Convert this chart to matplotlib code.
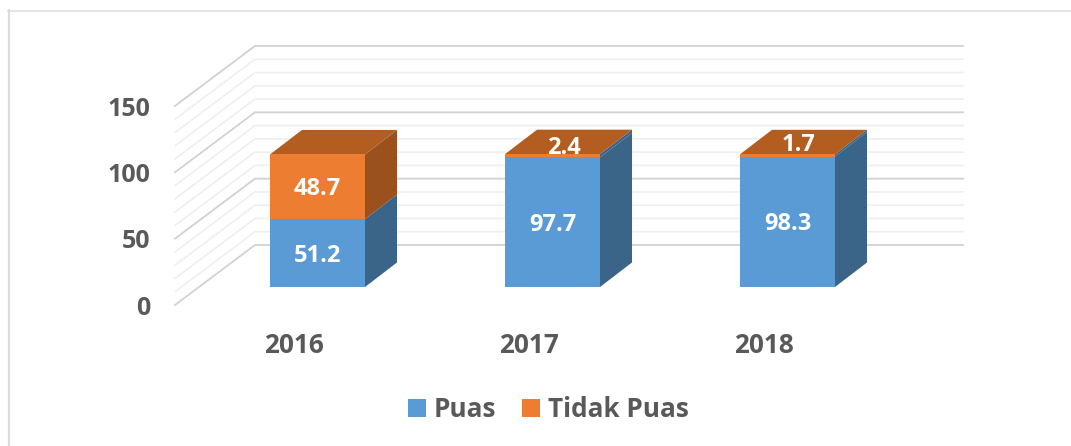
import matplotlib
matplotlib.use("Agg")
import matplotlib.pyplot as plt
from matplotlib.patches import Polygon
from matplotlib.lines import Line2D
from matplotlib.transforms import ScaledTranslation

years = ["2016", "2017", "2018"]
puas = [51.2, 97.7, 98.3]
tidak_puas = [48.7, 2.4, 1.7]
yticks = [0, 50, 100, 150]
minor_ticks = list(range(0, 151, 10))

W, H = 1071, 446
PXV = 1.327            # pixels per value unit
PXC = 235.0            # pixels per category step
X0 = 317.5             # pixel of first category centre
Y0 = 287.0             # pixel of value 0 on the bar front plane
L, R, T = 155.0, 965.0, 47.0

plt.rcParams['font.family'] = ['Open Sans', 'DejaVu Sans']
fig = plt.figure(figsize=(W / 100, H / 100), dpi=100, facecolor='white')
ax = fig.add_axes([L / W, 1 - Y0 / H, (R - L) / W, (Y0 - T) / H])
ax.set_xlim((L - X0) / PXC, (R - X0) / PXC)
ax.set_ylim(0, (Y0 - T) / PXV)
ax.patch.set_visible(False)
for s in ax.spines.values():
    s.set_visible(False)

def dc(px):
    return px / PXC

def dv(px):
    return px / PXV

# Chart frame
fig.add_artist(Line2D([8 / W, 1], [1 - 10.5 / H] * 2, color='#e0e0e0', lw=1.2))
fig.add_artist(Line2D([9 / W] * 2, [0, 1 - 10 / H], color='#dcdcdc', lw=1.6))

# Walls: gridlines run from the front-left floor edge, to the back wall, to the right
wall_front_x = (175 - X0) / PXC
wall_back_x = (255 - X0) / PXC
wall_right_x = (963 - X0) / PXC
for v in minor_ticks:
    major = v in yticks
    ax.plot([wall_front_x, wall_back_x, wall_right_x],
            [v - dv(18), v + dv(42), v + dv(42)],
            color='#d2d2d2' if major else '#efefef',
            lw=1.3 if major else 1.2, clip_on=False, zorder=1,
            solid_joinstyle='miter')

# Bars
BLUE, ORANGE = '#5B9BD5', '#ED7D31'
BLUE_SIDE, ORANGE_SIDE, ORANGE_TOP = '#3A6589', '#9A511D', '#B35D20'
width = 95 / PXC
ddx, ddy = dc(32), dv(24.5)
xs = list(range(len(years)))
b1 = ax.bar(xs, puas, width, color=BLUE, zorder=3, clip_on=False, label='Puas')
b2 = ax.bar(xs, tidak_puas, width, bottom=puas, color=ORANGE, zorder=3,
            clip_on=False, label='Tidak Puas')

# Pixel nudges of the upper data labels (x, y-up)
top_label_nudge = [(0, -2.5), (11, 8), (11, 10)]

for x, p, t, (nx, ny) in zip(xs, puas, tidak_puas, top_label_nudge):
    r = x + width / 2
    l = x - width / 2
    top = p + t
    ax.add_patch(Polygon([(r, 0), (r + ddx, ddy), (r + ddx, p + ddy), (r, p)],
                         fc=BLUE_SIDE, ec='none', zorder=2, clip_on=False))
    upper_side = ORANGE_SIDE if t > 10 else BLUE_SIDE
    ax.add_patch(Polygon([(r, p), (r + ddx, p + ddy), (r + ddx, top + ddy), (r, top)],
                         fc=upper_side, ec='none', zorder=2, clip_on=False))
    ax.add_patch(Polygon([(l, top), (r, top), (r + ddx, top + ddy), (l + ddx, top + ddy)],
                         fc=ORANGE_TOP, ec='none', zorder=2, clip_on=False))
    ax.text(x, p / 2 - dv(2.5), f"{p:.1f}", color='white', fontsize=17, fontweight='bold',
            ha='center', va='center', zorder=5)
    ax.text(x + dc(nx), p + t / 2 + dv(ny), f"{t:.1f}", color='white', fontsize=17,
            fontweight='bold', ha='center', va='center', zorder=5)

# Axis labels
ax.set_xticks(xs, years)
ax.set_yticks(yticks, [str(v) for v in yticks])
ax.tick_params(axis='both', length=0, labelsize=18, labelcolor='#595959')
ax.tick_params(axis='x', pad=32.3, labelsize=18.8)
ax.tick_params(axis='y', pad=3.5, labelsize=18)
for lab in ax.get_xticklabels() + ax.get_yticklabels():
    lab.set_fontweight('bold')
shift_y = ScaledTranslation(0, -18.3 / 100, fig.dpi_scale_trans)
for lab in ax.get_yticklabels():
    lab.set_transform(lab.get_transform() + shift_y)
shift_x = ScaledTranslation(-24 / 100, 0, fig.dpi_scale_trans)
for lab in ax.get_xticklabels():
    lab.set_transform(lab.get_transform() + shift_x)

# Legend
leg = fig.legend(handles=[b1, b2], loc='center', ncol=2, frameon=False,
                 bbox_to_anchor=(548.5 / W, 1 - 409.5 / H),
                 prop={'weight': 'bold', 'size': 18.8},
                 labelcolor='#595959', handlelength=0.69, handleheight=0.69,
                 handletextpad=0.3, columnspacing=1.0, borderpad=0)

fig.savefig('out.png', dpi=100, facecolor='white')
